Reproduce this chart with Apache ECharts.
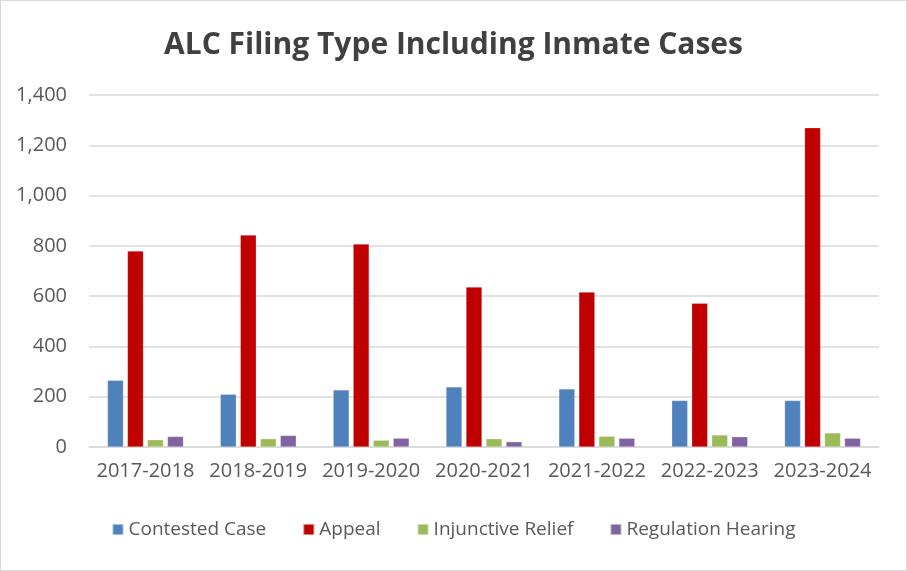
<!DOCTYPE html>
<html>
<head>
<meta charset="utf-8">
<script src="https://cdn.jsdelivr.net/npm/echarts@6/dist/echarts.min.js"></script>
<style>
  html, body { margin: 0; padding: 0; background: #fff; }
  #chart { width: 905px; height: 569px; border: 1px solid #d9d9d9; }
</style>
</head>
<body>
<div id="chart"></div>
<script>
// 年度
var years = ['2017-2018', '2018-2019', '2019-2020', '2020-2021', '2021-2022', '2022-2023', '2023-2024'];
// 各类案件
var contested = [265, 210, 227, 239, 231, 185, 185];
var appeal = [780, 843, 807, 636, 616, 572, 1270];
var injunctive = [29, 33, 27, 33, 43, 48, 56];
var regulation = [42, 46, 35, 21, 35, 41, 35];
var yTicks = { min: 0, max: 1400, interval: 200 };

var chart = echarts.init(document.getElementById('chart'));
var font = '"Open Sans", "Noto Sans", sans-serif';

function bar(name, data, color) {
  return {
    name: name,
    type: 'bar',
    data: data,
    barWidth: 16,
    barGap: '25%',
    itemStyle: { color: color, borderColor: 'rgba(255,255,255,0.5)', borderWidth: 0.5 }
  };
}

var option = {
  animation: false,
  title: {
    text: 'ALC Filing Type Including Inmate Cases',
    left: 'center',
    top: 24,
    textStyle: { fontFamily: font, fontSize: 30, fontWeight: 'bold', color: '#404040' }
  },
  legend: {
    bottom: 26,
    left: 'center',
    itemWidth: 11,
    itemHeight: 11,
    itemGap: 36,
    icon: 'rect',
    textStyle: { fontFamily: font, fontSize: 19, color: '#595959' }
  },
  grid: { left: 88, right: 27, top: 94, bottom: 123 },
  xAxis: {
    type: 'category',
    data: years,
    axisLine: { lineStyle: { color: '#d9d9d9', width: 1.5 } },
    axisTick: { show: false },
    axisLabel: { interval: 0, fontFamily: font, fontSize: 20, color: '#595959', margin: 14 }
  },
  yAxis: {
    type: 'value',
    min: yTicks.min,
    max: yTicks.max,
    interval: yTicks.interval,
    axisLine: { show: false },
    axisTick: { show: false },
    splitLine: { lineStyle: { color: '#d9d9d9', width: 1.5 } },
    axisLabel: {
      fontFamily: font, fontSize: 20, color: '#595959', margin: 22,
      formatter: function (v) { return v.toLocaleString('en-US'); }
    }
  },
  series: [
    bar('Contested Case', contested, '#4f81bd'),
    bar('Appeal', appeal, '#c00000'),
    bar('Injunctive Relief', injunctive, '#9bbb59'),
    bar('Regulation Hearing', regulation, '#8064a2')
  ]
};
chart.setOption(option);
</script>
</body>
</html>
